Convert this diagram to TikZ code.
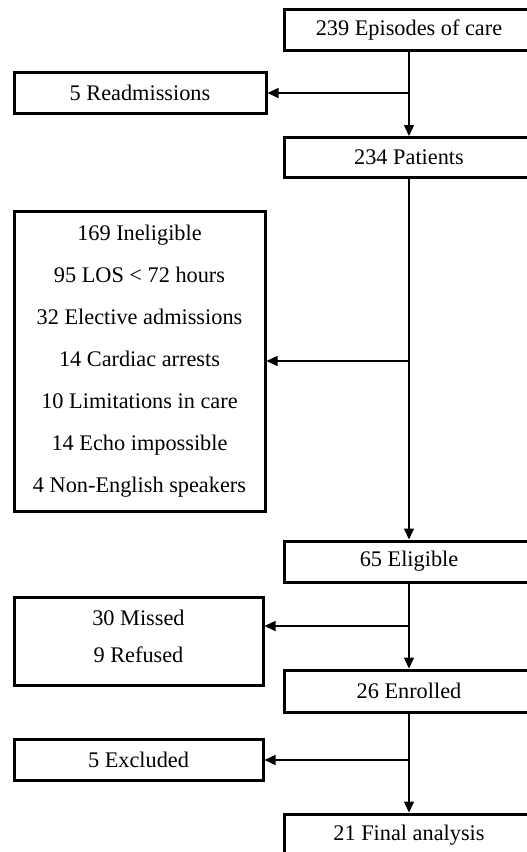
\documentclass[tikz,border=0pt]{standalone}
\usepackage{fontspec}
\setmainfont{Liberation Serif}
\usetikzlibrary{arrows.meta}
\begin{document}
\begin{tikzpicture}[x=1pt,y=-1pt,
  box/.style={draw=black,line width=3pt,fill=white,inner sep=0pt,align=center,
    font=\fontsize{22.3}{42}\selectfont},
  rbox/.style={box,minimum width=250pt,minimum height=41pt},
  arr/.style={line width=1.5pt,-{Triangle[length=11pt,width=10pt]}},
  ln/.style={line width=1.5pt}]
\fill[white] (0,0) rectangle (527,852);
\useasboundingbox (0,0) rectangle (527,852);
\clip (0,0) rectangle (527,852);
% right column
\node[rbox] (episodes) at (409,30) {239 Episodes of care};
\node[rbox,minimum height=40pt] (patients) at (409,157.5) {234 Patients};
\node[rbox] (eligible) at (409,561.5) {65 Eligible};
\node[rbox,minimum height=42pt] (enrolled) at (409,691) {26 Enrolled};
\node[rbox,minimum height=42pt] (final) at (409,835) {21 Final analysis};
% left column
\node[box,minimum width=252pt,minimum height=41pt] (readm) at (140,92.5) {5 Readmissions};
\node[box,minimum width=251pt,minimum height=300pt] (inelig) at (139.5,361)
  {169 Ineligible\\95 LOS < 72 hours\\32 Elective admissions\\14 Cardiac arrests\\10 Limitations in care\\14 Echo impossible\\4 Non-English speakers};
\node[box,minimum width=249pt,minimum height=88pt,font=\fontsize{22.3}{37}\selectfont] (missed) at (138.5,641) {30 Missed\\9 Refused\\[-27pt]\mbox{}};
\node[box,minimum width=249pt,minimum height=41pt] (excl) at (138.5,759.5) {5 Excluded};
% branch points
\coordinate (b1) at (409,93);
\coordinate (b2) at (409,361);
\coordinate (b3) at (409,626);
\coordinate (b4) at (409,760);
% connectors
\draw[arr] (episodes.south) -- (patients.north);
\draw[arr] (b1) -- (b1 -| readm.east);
\draw[arr] (patients.south) -- (eligible.north);
\draw[arr] (b2) -- (b2 -| inelig.east);
\draw[arr] (eligible.south) -- (enrolled.north);
\draw[arr] (b3) -- (b3 -| missed.east);
\draw[arr] (enrolled.south) -- (final.north);
\draw[arr] (b4) -- (b4 -| excl.east);
\end{tikzpicture}
\end{document}
